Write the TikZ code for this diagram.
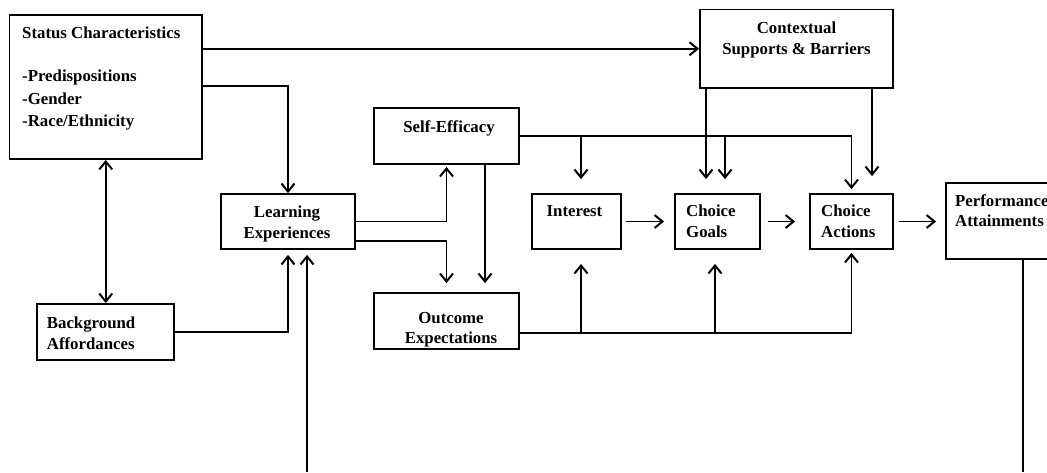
\documentclass[tikz,border=0pt]{standalone}
\usepackage{fontspec}
\setmainfont{Liberation Serif}
\usetikzlibrary{arrows.meta}
\begin{document}
\begin{tikzpicture}[x=1pt,y=-1pt,
  box/.style={draw, rectangle, line width=1.8pt, inner sep=0pt},
  lbl/.style={font=\fontsize{16.8}{20}\selectfont\bfseries, inner sep=0pt},
  link/.style={line width=1.7pt},
  tip/.tip={Straight Barb[length=8pt,width=13pt,line width=2pt]},
  arr/.style={link, -tip},
  biarr/.style={link, tip-tip}]
\useasboundingbox (0,0) rectangle (1047,472);
\fill[white] (0,0) rectangle (1047,472);
\begin{scope}
\clip (0,0) rectangle (1047,472);

% boxes
\node[box, minimum width=192.5pt, minimum height=144pt] (status)   at (105.75,87)  {};
\node[box, minimum width=193pt,   minimum height=78.5pt] (context) at (796.5,48.75) {};
\node[box, minimum width=145pt,   minimum height=56pt] (selfeff)   at (446.5,136)  {};
\node[box, minimum width=134pt,   minimum height=55pt] (learn)     at (288,221.5)  {};
\node[box, minimum width=137.3pt, minimum height=56pt] (bg)        at (105.35,332) {};
\node[box, minimum width=145pt,   minimum height=56pt] (outcome)   at (446.5,321)  {};
\node[box, minimum width=89pt,    minimum height=55pt] (interest)  at (576.5,221.5) {};
\node[box, minimum width=85pt,    minimum height=55pt] (goals)     at (717.5,221.5) {};
\node[box, minimum width=83pt,    minimum height=55pt] (actions)   at (851.5,221.5) {};
\node[box, minimum width=124pt,   minimum height=76pt] (perf)      at (1008,221)   {};

% box texts
\node[lbl, anchor=base west] (tStatus) at (22,38.3)  {Status Characteristics};
\node[lbl, anchor=base west] (tPre)    at (22,81.7)  {-Predispositions};
\node[lbl, anchor=base west] (tGen)    at (22,104)   {-Gender};
\node[lbl, anchor=base west] (tRace)   at (22,126)   {-Race/Ethnicity};
\node[lbl, anchor=base] (tCon1) at (796.5,33) {Contextual};
\node[lbl, anchor=base] (tCon2) at (796.5,54) {Supports \& Barriers};
\node[lbl, anchor=base] (tSelf) at (449,132) {Self-Efficacy};
\node[lbl, anchor=base] (tLe1) at (287,217.5) {Learning};
\node[lbl, anchor=base] (tLe2) at (287,238.3) {Experiences};
\node[lbl, anchor=base west] (tBg1) at (46.7,328.3) {Background};
\node[lbl, anchor=base west] (tBg2) at (46.7,349.3) {Affordances};
\node[lbl, anchor=base] (tOut1) at (451,323) {Outcome};
\node[lbl, anchor=base] (tOut2) at (451,343.5) {Expectations};
\node[lbl, anchor=base] (tInt) at (574.5,216.7) {Interest};
\node[lbl, anchor=base west] (tGo1) at (686,216.7) {Choice};
\node[lbl, anchor=base west] (tGo2) at (686,237.5) {Goals};
\node[lbl, anchor=base west] (tAc1) at (821,216.7) {Choice};
\node[lbl, anchor=base west] (tAc2) at (821,237.5) {Actions};
\node[lbl, anchor=base west] (tPe1) at (955,206.5) {Performance};
\node[lbl, anchor=base west] (tPe2) at (955,226) {Attainments};

% attachment points on the boxes
\coordinate (feedL) at (307,472);
\coordinate (feedR) at (1023,472);
\coordinate (statB) at ([yshift=1pt]status.east);
\coordinate (learnB) at ([yshift=-19.5pt]learn.east);
\coordinate (selfB) at ([xshift=38.5pt]selfeff.south);
\coordinate (outB) at ([yshift=-12pt]outcome.east);
\coordinate (intTop) at ([xshift=4.5pt]interest.north);
\coordinate (intBot) at ([xshift=4.5pt]interest.south);
\coordinate (goTopL) at ([xshift=-11.5pt]goals.north);
\coordinate (goTopR) at ([xshift=7.5pt]goals.north);
\coordinate (goBot) at ([xshift=-2.5pt]goals.south);
\coordinate (acTop) at ([xshift=20.5pt]actions.north);

% connectors
\draw[arr] (context.west -| status.east) -- (context.west);
\draw[arr] (statB) -| (learn.north);
\draw[biarr] (status.south) -- (status.south |- bg.north);
\draw[arr, shorten >=5pt] (bg.east) -| (learn.south);
\draw[arr, shorten >=5pt] (feedL) -- (feedL |- learn.south);
\draw[link] (feedR |- perf.south) -- (feedR);

\draw[arr, shorten >=2pt] (learn.east) -| (selfeff.south);
\draw[arr, shorten >=9pt] (learnB) -| (outcome.north);
\draw[arr, shorten >=9pt] (selfB) -- (selfB |- outcome.north);

\draw[arr, shorten >=4pt] (selfeff.east) -| (actions.north);
\draw[arr, shorten >=14pt] (intTop |- selfeff.east) -- (intTop);
\draw[arr, shorten >=14pt] (goTopR |- selfeff.east) -- (goTopR);
\draw[arr, shorten >=14pt] (goTopL |- context.south) -- (goTopL);
\draw[arr, shorten >=17pt] (acTop |- context.south) -- (acTop);

\draw[arr, shorten >=3pt] (outB) -| (actions.south);
\draw[arr, shorten >=14pt] (intBot |- outB) -- (intBot);
\draw[arr, shorten >=14pt] (goBot |- outB) -- (goBot);

\draw[arr, shorten <=4pt, shorten >=10pt] (interest.east) -- (goals.west);
\draw[arr, shorten <=7pt, shorten >=14pt] (goals.east) -- (actions.west);
\draw[arr, shorten <=5pt, shorten >=9pt] (actions.east) -- (actions.east -| perf.west);
\end{scope}
\end{tikzpicture}
\end{document}
